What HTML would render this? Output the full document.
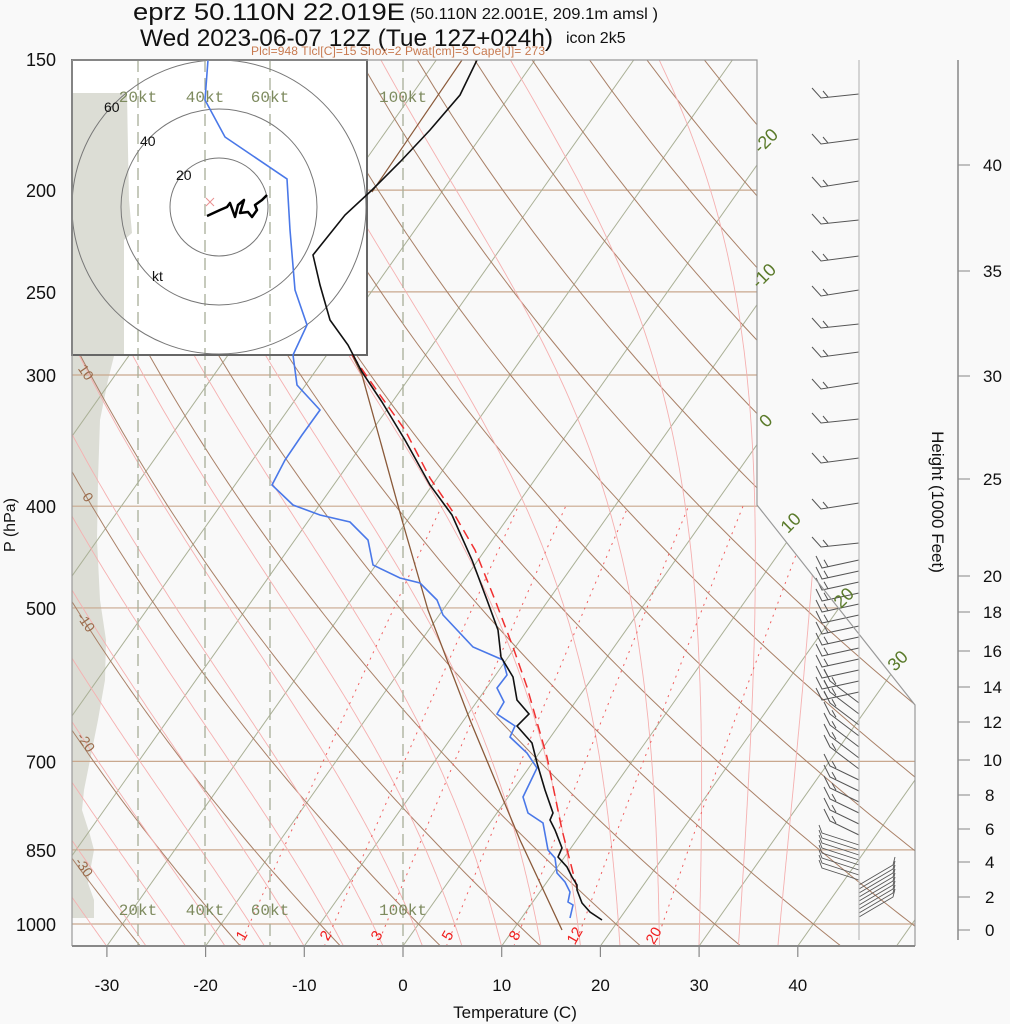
<!DOCTYPE html>
<html><head><meta charset="utf-8"><style>
html,body{margin:0;padding:0;background:#f9f9f9;}
svg{display:block;font-family:"Liberation Sans",sans-serif;}
</style></head><body>
<svg id="s" width="1010" height="1024" viewBox="0 0 1010 1024" xmlns="http://www.w3.org/2000/svg">
<rect width="1010" height="1024" fill="#f9f9f9"/>
<defs>
<clipPath id="cp"><polygon points="72,60 757,60 757,505 915,705 915,946 72,946"/></clipPath>
</defs>
<g id="grid" clip-path="url(#cp)"></g>
<g id="hodo"></g>
<g id="prof" clip-path="url(#cp)"></g>
<g id="barbs"></g>
<g id="txt"></g>
<!-- Titles -->
<text x="133" y="20" font-size="24" fill="#111" textLength="272" lengthAdjust="spacingAndGlyphs">eprz 50.110N 22.019E</text>
<text x="410" y="19" font-size="16" fill="#111" textLength="248" lengthAdjust="spacingAndGlyphs">(50.110N 22.001E, 209.1m amsl )</text>
<text x="140" y="46" font-size="24" fill="#111" textLength="413" lengthAdjust="spacingAndGlyphs">Wed 2023-06-07 12Z (Tue 12Z+024h)</text>
<text x="566" y="43" font-size="16" fill="#111">icon 2k5</text>
<text x="251" y="55" font-size="12" fill="#c87a50" textLength="294">Plcl=948 Tlcl[C]=15 Shox=2 Pwat[cm]=3 Cape[J]= 273</text>
<text transform="translate(15,525) rotate(-90)" font-size="16" text-anchor="middle" fill="#111">P (hPa)</text>
<text x="515" y="1018" font-size="17" text-anchor="middle" fill="#111">Temperature (C)</text>
<text transform="translate(932,502) rotate(90)" font-size="17" text-anchor="middle" fill="#111">Height (1000 Feet)</text>
</svg>
<script>
(function(){
var NS="http://www.w3.org/2000/svg";
function el(par,tag,at,txt){var e=document.createElementNS(NS,tag);for(var k in at)e.setAttribute(k,at[k]);if(txt!==undefined)e.textContent=txt;document.getElementById(par).appendChild(e);return e;}
function yP(p){return 924-456*Math.log(1000/p);}
function xT(T,y){return 403+9.87*T+0.706*(946-y);}
function pl(par,pts,at){var s=pts.map(function(q){return q[0].toFixed(1)+","+q[1].toFixed(1);}).join(" ");at.points=s;at.fill="none";return el(par,"polyline",at);}
el("grid","polygon",{points:"72,93 127,93 128,150 129,200 132,233 124,240 124,300 118,340 108,380 100,420 98,480 97,540 100,600 106,640 105,680 98,720 92,750 84,790 82,810 90,835 94,850 88,883 94,900 94,918 72,918",fill:"#dcddd5"});
[150,200,250,300,400,500,700,850,1000].forEach(function(p){var y=yP(p);el("grid","line",{x1:72,y1:y,x2:915,y2:y,stroke:"#c9a88e","stroke-width":1.2});});
for(var T=-130;T<=50;T+=10){el("grid","line",{x1:xT(T,946),y1:946,x2:xT(T,60),y2:60,stroke:"#aab096","stroke-width":1});}
for(var th=-40;th<=200;th+=10){var pts=[];for(var p=1050;p>=150;p-=10){var t=(th+273.15)*Math.pow(p/1000,0.286)-273.15;var y=yP(p);pts.push([xT(t,y),y]);}pl("grid",pts,{stroke:"#a98067","stroke-width":1});}
function es(tc){return 6.112*Math.exp(17.67*tc/(tc+243.5));}
for(var T0=-30;T0<=40;T0+=4){var t=T0+273.15,pts=[];for(var p=1050;p>=150;p-=5){var tc=t-273.15;var y=yP(p);pts.push([xT(tc,y),y]);var e=es(tc);var rs=0.622*e/(p-e);var d=(287*t+2.5e6*rs)/(p*(1005+2.5e6*2.5e6*rs*0.622/(287*t*t)));t-=d*5;}pl("grid",pts,{stroke:"#f5b0b0","stroke-width":0.9});}
[1,2,3,5,8,12,20].forEach(function(w){var pts=[];for(var p=1050;p>=400;p-=10){var e=w*p/(622+w);var l=Math.log(e/6.112);var td=243.5*l/(17.67-l);var y=yP(p);pts.push([xT(td,y),y]);}pl("grid",pts,{stroke:"#f06060","stroke-width":1,"stroke-dasharray":"2,5"});});
[138,205,270,403].forEach(function(x){el("grid","line",{x1:x,y1:60,x2:x,y2:946,stroke:"#a8ae98","stroke-width":1.3,"stroke-dasharray":"12,6"});});
el("hodo","rect",{x:72,y:60,width:295,height:295,fill:"#ffffff",stroke:"none"});
el("hodo","polygon",{points:"72,93 127,93 128,150 129,200 132,233 124,240 124,300 124,355 72,355",fill:"#dcddd5"});
[138,205,270].forEach(function(x){el("hodo","line",{x1:x,y1:60,x2:x,y2:355,stroke:"#a8ae98","stroke-width":1.3,"stroke-dasharray":"12,6"});});
[49,98,147].forEach(function(r){el("hodo","circle",{cx:219,cy:207,r:r,fill:"none",stroke:"#777","stroke-width":1});});
el("hodo","rect",{x:72,y:60,width:295,height:295,fill:"none",stroke:"#666","stroke-width":2});
el("hodo","text",{x:176,y:180,"font-size":14,fill:"#111"},"20");
el("hodo","text",{x:140,y:146,"font-size":14,fill:"#111"},"40");
el("hodo","text",{x:104,y:112,"font-size":14,fill:"#111"},"60");
el("hodo","text",{x:152,y:281,"font-size":14,fill:"#111"},"kt");
el("hodo","path",{d:"M206,198 l8,8 M214,198 l-8,8",stroke:"#e89090","stroke-width":1,fill:"none"});
pl("hodo",[[207,216],[220,210],[227,207],[230,203],[235,217],[238,205],[244,200],[240,213],[248,212],[252,217],[257,210],[255,205],[262,200],[267,195]],{stroke:"#000","stroke-width":2.5,"stroke-linejoin":"round"});
["20kt","40kt","60kt","100kt"].forEach(function(s,i){var x=[138,205,270,403][i];el("txt","text",{x:x,y:102,"font-size":16,"font-family":"Liberation Mono,monospace",fill:"#7d8a5e","text-anchor":"middle"},s);el("txt","text",{x:x,y:915,"font-size":16,"font-family":"Liberation Mono,monospace",fill:"#7d8a5e","text-anchor":"middle"},s);});
pl("prof",[[462,60],[372,192]],{stroke:"#8a5a3a","stroke-width":1.2});
pl("prof",[[352,355],[362,375],[380,440],[402,520],[428,610],[470,720],[520,840],[562,930]],{stroke:"#8a5a3a","stroke-width":1.3});
pl("prof",[[352,355],[380,395],[405,430],[430,478],[453,512],[475,550],[495,600],[513,647],[527,687],[547,757],[562,830],[577,888]],{stroke:"#f03030","stroke-width":1.5,"stroke-dasharray":"10,6"});
pl("prof",[[208,60],[205,100],[225,137],[287,179],[290,230],[295,290],[307,325],[293,355],[297,385],[320,410],[302,435],[285,460],[272,485],[293,505],[320,515],[350,522],[368,540],[373,565],[400,578],[420,583],[437,600],[443,615],[473,647],[503,660],[507,675],[497,688],[504,702],[497,714],[515,726],[510,737],[527,753],[537,768],[523,797],[528,813],[543,823],[548,850],[555,858],[557,873],[565,882],[570,892],[568,902],[573,905],[570,918]],{stroke:"#4a78e8","stroke-width":1.6});
pl("prof",[[477,60],[460,95],[430,130],[400,162],[372,190],[345,215],[313,255],[320,285],[330,320],[348,345],[362,372],[382,402],[405,440],[430,485],[452,515],[472,560],[487,600],[498,630],[501,657],[513,677],[517,700],[529,714],[517,726],[532,743],[537,763],[545,790],[553,813],[550,820],[555,830],[562,848],[558,857],[567,867],[572,877],[577,885],[577,890],[582,903],[590,912],[602,920]],{stroke:"#111","stroke-width":1.6});
el("txt","polyline",{points:"72,946 72,60 757,60 757,505 915,705 915,946",fill:"none",stroke:"#999","stroke-width":1.2});
el("txt","line",{x1:72,y1:946,x2:915,y2:946,stroke:"#888","stroke-width":2});
el("txt","line",{x1:859,y1:60,x2:859,y2:940,stroke:"#bbb","stroke-width":1.2});
el("txt","line",{x1:958,y1:60,x2:958,y2:940,stroke:"#888","stroke-width":1.5});
for(var T=-30;T<=40;T+=10){var x=403+9.87*T;el("txt","line",{x1:x,y1:946,x2:x,y2:957,stroke:"#888","stroke-width":1.2});el("txt","text",{x:x,y:991,"font-size":17,"text-anchor":"middle",fill:"#111"},""+T);}
[150,200,250,300,400,500,700,850,1000].forEach(function(p){el("txt","text",{x:56,y:yP(p)+7,"font-size":18,"text-anchor":"end",fill:"#111"},""+p);});
[[40,165],[35,271],[30,376],[25,479],[20,576],[18,612],[16,651],[14,687],[12,722],[10,760],[8,795],[6,829],[4,862],[2,897],[0,930]].forEach(function(h){el("txt","line",{x1:958,y1:h[1],x2:970,y2:h[1],stroke:"#888","stroke-width":1});el("txt","text",{x:h[0]>=10?983:985,y:h[1]+6,"font-size":17,fill:"#111"},""+h[0]);});
[[-20,770,145],[-10,768,280],[0,770,425],[10,795,527],[20,848,602],[30,902,665]].forEach(function(a){el("txt","text",{x:a[1],y:a[2],"font-size":18,fill:"#5a7a2a",transform:"rotate(-45 "+a[1]+" "+a[2]+")","text-anchor":"middle"},""+a[0]);});
[[10,82,375],[0,84,500],[-10,82,625],[-20,82,745],[-30,80,870]].forEach(function(a){el("txt","text",{x:a[1],y:a[2],"font-size":14,fill:"#9a6a4a",transform:"rotate(55 "+a[1]+" "+a[2]+")","text-anchor":"middle"},""+a[0]);});
[["1",246,938],["2",330,938],["3",381,938],["5",452,938],["8",519,938],["12",579,938],["20",658,938]].forEach(function(a){el("txt","text",{x:a[1],y:a[2],"font-size":15,fill:"#f02020",transform:"rotate(-60 "+a[1]+" "+a[2]+")","text-anchor":"middle"},a[0]);});
[94,139,181,220,256,290,324,352,383,419,458,503,543].forEach(function(y,i){var ex=821,ey=y+4+(i%3);el("barbs","path",{d:"M859,"+y+" L"+ex+","+ey+" L812,"+(ey-10)+" M"+(ex+7)+","+(ey-1)+" L"+(ex+2)+","+(ey-7),stroke:"#555","stroke-width":1,fill:"none"});});
for(var y=560;y<=840;y+=11){var dy=(y<700)?8:((y<780)?-22:-14);var ex=(y<700)?822:830;el("barbs","path",{d:"M859,"+y+" L"+ex+","+(y+dy)+" l-6,-12 M"+(ex+6)+","+(y+dy*0.85)+" l-4,-7",stroke:"#555","stroke-width":1,fill:"none"});}
for(var y=845;y<=880;y+=5){el("barbs","path",{d:"M859,"+y+" L822,"+(y-12)+" l-3,-8",stroke:"#555","stroke-width":0.9,fill:"none"});}
for(var y=885;y<=918;y+=4){el("barbs","path",{d:"M859,"+y+" L893,"+(y-20)+" l2,-8",stroke:"#555","stroke-width":0.9,fill:"none"});}
})();
</script>
</body></html>
